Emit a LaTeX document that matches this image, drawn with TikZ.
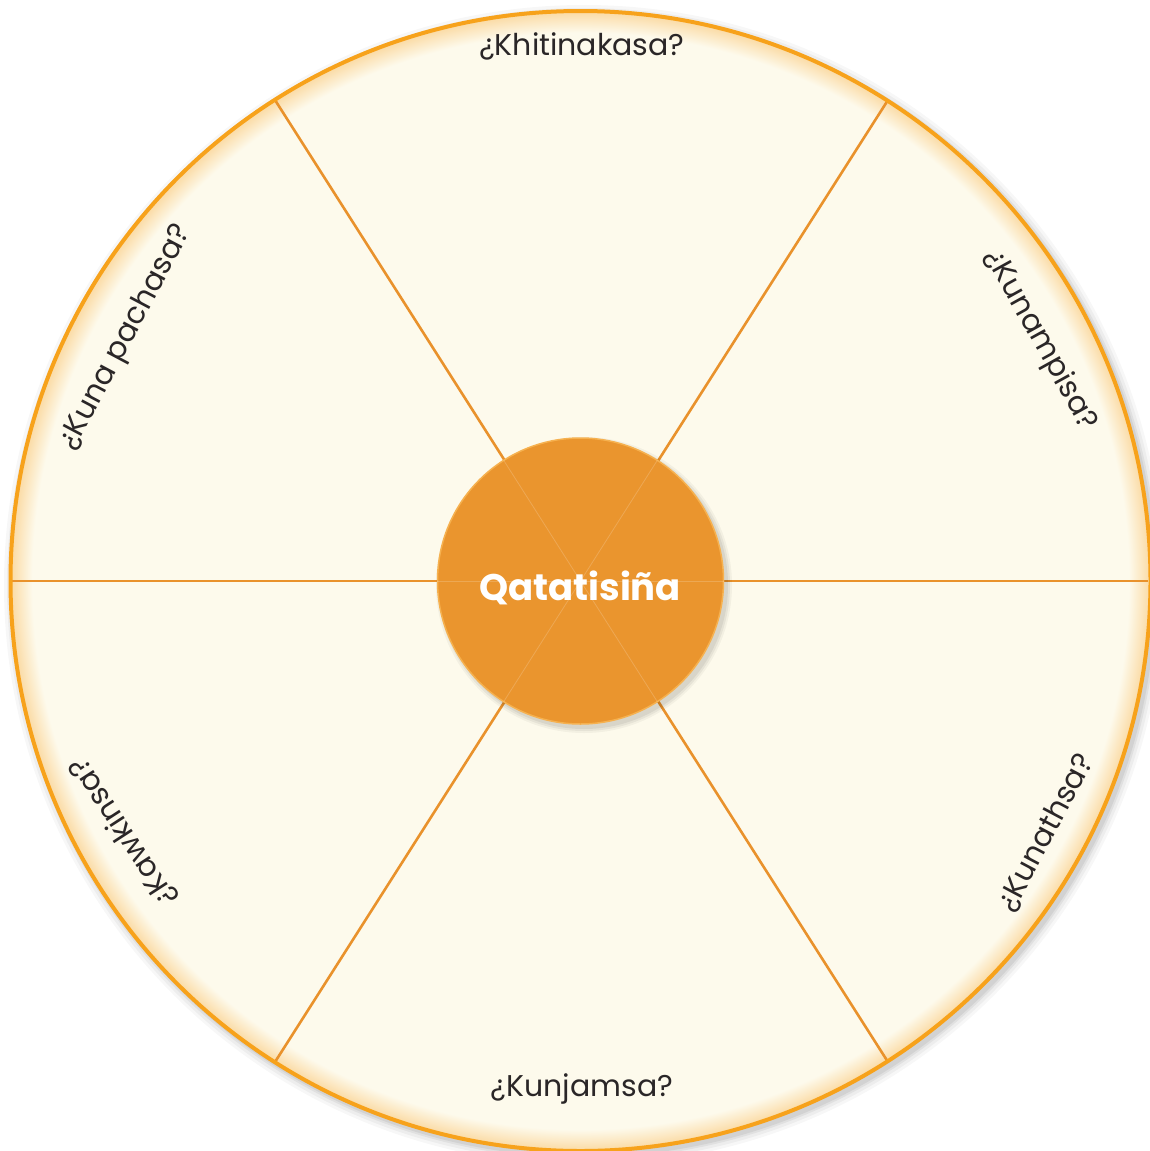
\documentclass[tikz,border=0pt]{standalone}
\usepackage{fontspec}
\usetikzlibrary{calc}
\setmainfont{Poppins}
\definecolor{cream}{HTML}{FDFAEC}
\definecolor{rimorange}{HTML}{F7A21B}
\definecolor{spoke}{HTML}{E9922C}
\definecolor{hubfill}{HTML}{EA952E}
\definecolor{hubrim}{HTML}{F6B14F}
\definecolor{ink}{HTML}{2A2627}
\definecolor{glow}{HTML}{FBDDAA}
\pgfdeclareradialshading{rimglow}{\pgfpoint{0bp}{0bp}}{color(0bp)=(cream); color(24.05bp)=(cream); color(24.9bp)=(glow); color(25bp)=(glow); color(50bp)=(glow)}
\tikzset{
  spokeline/.style={draw=spoke, line width=2.6pt},
  faintline/.style={draw=white, opacity=0.18, line width=0.8pt},
  qlabel/.style={text=ink, font=\fontsize{30}{34}\selectfont, inner sep=0pt},
}
\begin{document}
\begin{tikzpicture}[x=1pt,y=-1pt]
\useasboundingbox (0,0) rectangle (1150,1151);
\fill[white] (0,0) rectangle (1150,1151);
\coordinate (c) at (580.5,581);
% soft shadow
\foreach \r/\o in {580/0.03,577/0.04,574/0.05,572/0.06}{
  \fill[black, opacity=\o] (584,585) circle[radius=\r];
}
% outer disc
\shade[shading=rimglow] (c) circle[radius=570];
% spokes
\coordinate (e0) at (1148,581);
\coordinate (e180) at (12,581);
\coordinate (e1) at (888,100);
\coordinate (e2) at (275,100);
\coordinate (e4) at (275,1062);
\coordinate (e5) at (888,1062);
\draw[spokeline] (e180) -- (e0);
\draw[spokeline] (e2) -- (e5);
\draw[spokeline] (e1) -- (e4);
% rim
\draw[rimorange, line width=4pt] (c) circle[radius=570];
% hub shadow
\foreach \r/\o in {148/0.04,146/0.05,144/0.06}{
  \fill[black, opacity=\o] (584,585) circle[radius=\r];
}
\node[circle, fill=hubfill, draw=hubrim, line width=1.5pt, minimum size=286pt, inner sep=0pt] (hub) at (c) {};
\draw[faintline] (hub.west) -- (hub.east);
\draw[faintline] ($(c)+(-76.9,-120.8)$) -- ($(c)+(76.9,120.8)$);
\draw[faintline] ($(c)+(76.9,-120.8)$) -- ($(c)+(-76.9,120.8)$);
\node[text=white, font=\fontsize{37}{42}\selectfont\bfseries, inner sep=0pt] (title) at (580,588) {Qatatisiña};
% labels
\node[qlabel] (l1) at (582,46) {¿Khitinakasa?};
\node[qlabel, rotate=-61] (l2) at (1040,340) {¿Kunampisa?};
\node[qlabel, rotate=62] (l3) at (126,338) {¿Kuna pachasa?};
\node[qlabel, rotate=62] (l4) at (1046,833) {¿Kunathsa?};
\node[qlabel, rotate=123] (l5) at (123,832) {¿Kawkinsa?};
\node[qlabel] (l6) at (582,1089) {¿Kunjamsa?};
\end{tikzpicture}
\end{document}
